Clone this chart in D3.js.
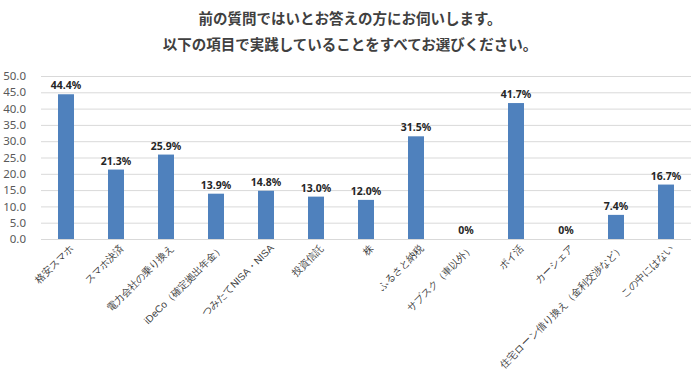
<!DOCTYPE html>
<html>
<head>
<meta charset="utf-8">
<script src="https://cdn.jsdelivr.net/npm/d3@7"></script>
<style>
  body { margin: 0; background: #fff; }
  svg { display: block; font-family: "Noto Sans CJK JP", "Noto Sans", sans-serif; }
</style>
</head>
<body>
<div id="chart"></div>
<script>
// categories and values (%)
const categories = ["格安スマホ", "スマホ決済", "電力会社の乗り換え", "iDeCo（確定拠出年金）", "つみたてNISA・NISA",
  "投資信託", "株", "ふるさと納税", "サブスク（車以外）", "ポイ活", "カーシェア", "住宅ローン借り換え（金利交渉など）", "この中にはない"];
const values = [44.4, 21.3, 25.9, 13.9, 14.8, 13.0, 12.0, 31.5, 0, 41.7, 0, 7.4, 16.7];
const yTicks = [0, 5, 10, 15, 20, 25, 30, 35, 40, 45, 50];
const titleLines = ["前の質問ではいとお答えの方にお伺いします。", "以下の項目で実践していることをすべてお選びください。"];

const W = 700, H = 379;
const margin = {top: 76, right: 9, bottom: 140, left: 41};

const svg = d3.select("#chart").append("svg")
  .attr("width", W)
  .attr("height", H);

// title
svg.append("g").selectAll("text")
  .data(titleLines)
  .enter().append("text")
  .attr("x", W / 2)
  .attr("y", (d, i) => 24 + i * 26)
  .attr("text-anchor", "middle")
  .style("font-size", "14.5px")
  .style("font-weight", "bold")
  .style("fill", "#404040")
  .text(d => d);

const x = d3.scaleBand()
  .domain(categories)
  .range([margin.left, W - margin.right])
  .paddingInner(0.68)
  .paddingOuter(0.34);

const y = d3.scaleLinear()
  .domain([0, 50])
  .range([239, margin.top]);

// gridlines
svg.append("g").selectAll("line")
  .data(yTicks)
  .enter().append("line")
  .attr("x1", margin.left)
  .attr("x2", W - margin.right)
  .attr("y1", d => y(d) + 0.5)
  .attr("y2", d => y(d) + 0.5)
  .style("stroke", "#d9d9d9")
  .style("stroke-width", "1px");

// y axis labels
const yAxis = svg.append("g")
  .attr("transform", "translate(" + (margin.left - 12) + ",0)")
  .call(d3.axisLeft(y).tickValues(yTicks).tickFormat(d3.format(".1f")).tickSize(0));
yAxis.select(".domain").remove();
yAxis.selectAll("text")
  .style("font-family", "'Noto Sans', sans-serif")
  .style("font-size", "11.5px")
  .style("fill", "#595959");

// bars
svg.append("g").selectAll("rect")
  .data(values)
  .enter().append("rect")
  .attr("x", (d, i) => x(categories[i]))
  .attr("y", d => y(d))
  .attr("width", x.bandwidth())
  .attr("height", d => y(0) - y(d))
  .style("fill", "#4f81bd");

// value labels
svg.append("g").selectAll("text")
  .data(values)
  .enter().append("text")
  .attr("x", (d, i) => x(categories[i]) + x.bandwidth() / 2)
  .attr("y", d => y(d) - 5)
  .attr("text-anchor", "middle")
  .style("font-family", "'Noto Sans', sans-serif")
  .style("font-size", "10.5px")
  .style("font-weight", "bold")
  .style("fill", "#262626")
  .text(d => d === 0 ? "0%" : d.toFixed(1) + "%");

// x axis labels, rotated
const xAxis = svg.append("g")
  .attr("transform", "translate(0," + y(0) + ")")
  .call(d3.axisBottom(x).tickSize(0));
xAxis.select(".domain").remove();
xAxis.selectAll("text")
  .attr("text-anchor", "end")
  .attr("transform", "translate(6,7) rotate(-45)")
  .attr("dy", "0.35em")
  .attr("y", 0)
  .style("font-size", "10px")
  .style("fill", "#404040");
</script>
</body>
</html>
